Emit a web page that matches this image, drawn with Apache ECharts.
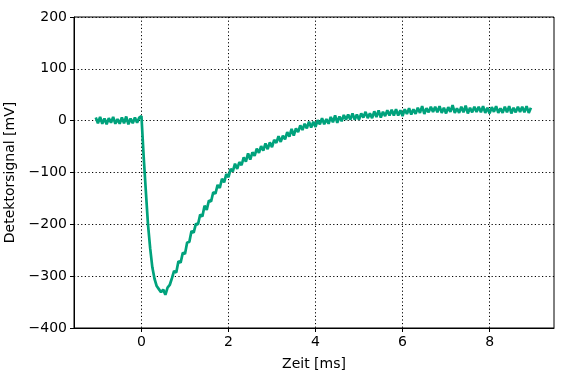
<!DOCTYPE html>
<html>
<head>
<meta charset="utf-8">
<script src="https://cdn.jsdelivr.net/npm/echarts@6/dist/echarts.min.js"></script>
<style>html,body{margin:0;padding:0;background:#fff}#c{width:566px;height:375px}</style>
</head>
<body>
<div id="c"></div>
<script>
// Sampling grid of the trace (ms)
const timeStart = -1.05;
const timeStep = 0.05;
// Detector signal in mV, one value per sample (noisy trace)
const signal = [
  6,-5,7,-6,4,-7,5,-4,7,-6,3,-6,6,-5,8,-7,4,-5,6,-4,6,
  9,-68,-135,-200,-246,-283,-305,-319,-325,-331,-326,-336,-322,-317,-304,
  -290,-293,-271,-274,-255,-257,-235,-234,-213,-216,-199,-200,-181,-185,-164,
  -172,-154,-156,-138,-141,-124,-130,-112,-119,-103,-109,-93,-98,-83,-93,
  -80,-86,-71,-79,-63,-75,-61,-68,-54,-62,-49,-58,-44,-55,-42,
  -51,-37,-43,-30,-41,-29,-36,-22,-31,-16,-29,-15,-22,-9,-18,
  -6,-15,-2,-13,-2,-12,1,-7,5,-7,3,-6,7,-3,10,
  -4,8,-1,11,2,12,2,14,2,12,2,14,6,17,5,
  14,5,18,7,20,6,17,9,20,10,21,10,22,10,20,
  9,22,13,24,12,22,13,25,15,28,13,24,16,27,17,
  27,16,28,15,25,14,26,17,30,15,24,15,27,16,29,
  14,25,16,27,17,27,16,28,15,25,14,26,17,28,15,
  24,15,27,16,28,14,25,16,27,17,27,16,28,15,25
];
const xTicks = [0, 2, 4, 6, 8];
const yMin = -400, yMax = 200, yStep = 100;
const xMin = -1.55, xMax = 9.48;
const xName = 'Zeit [ms]';
const yName = 'Detektorsignal [mV]';

const data = signal.map((v, i) => [timeStart + i * timeStep, v]);
const minus = s => String(s).replace('-', '\u2212');
const font = 'DejaVu Sans';

const chart = echarts.init(document.getElementById('c'), null, {renderer: 'canvas'});
chart.setOption({
  animation: false,
  backgroundColor: '#fff',
  grid: {left: 74, right: 12, top: 17, bottom: 47, containLabel: false, outerBoundsMode: 'none',
         show: true, borderColor: '#000', borderWidth: 1, backgroundColor: 'transparent'},
  xAxis: {
    type: 'value', min: xMin, max: xMax,
    name: xName, nameLocation: 'middle', nameGap: 29,
    nameTextStyle: {fontFamily: font, fontSize: 14, color: '#000'},
    axisLine: {show: true, onZero: false, lineStyle: {color: '#000', width: 1}},
    axisTick: {show: true, length: 4, customValues: xTicks, lineStyle: {color: '#000'}},
    axisLabel: {customValues: xTicks, fontFamily: font, fontSize: 14, color: '#000', margin: 7, formatter: v => minus(v)},
    splitLine: {show: true, lineStyle: {color: '#000', type: [1.2, 2.4], width: 1}}
  },
  yAxis: {
    type: 'value', min: yMin, max: yMax, interval: yStep,
    name: yName, nameLocation: 'middle', nameGap: 56,
    nameTextStyle: {fontFamily: font, fontSize: 14, color: '#000'},
    axisLine: {show: true, onZero: false, lineStyle: {color: '#000', width: 1}},
    axisTick: {show: true, length: 4, lineStyle: {color: '#000'}},
    axisLabel: {fontFamily: font, fontSize: 14, color: '#000', margin: 7, formatter: v => minus(v)},
    splitLine: {show: true, lineStyle: {color: '#000', type: [1.2, 2.4], width: 1}}
  },
  series: [{
    type: 'line', data: data, showSymbol: false, symbol: 'none',
    lineStyle: {color: '#00A27C', width: 2.7}, z: 5
  }]
});
</script>
</body>
</html>
